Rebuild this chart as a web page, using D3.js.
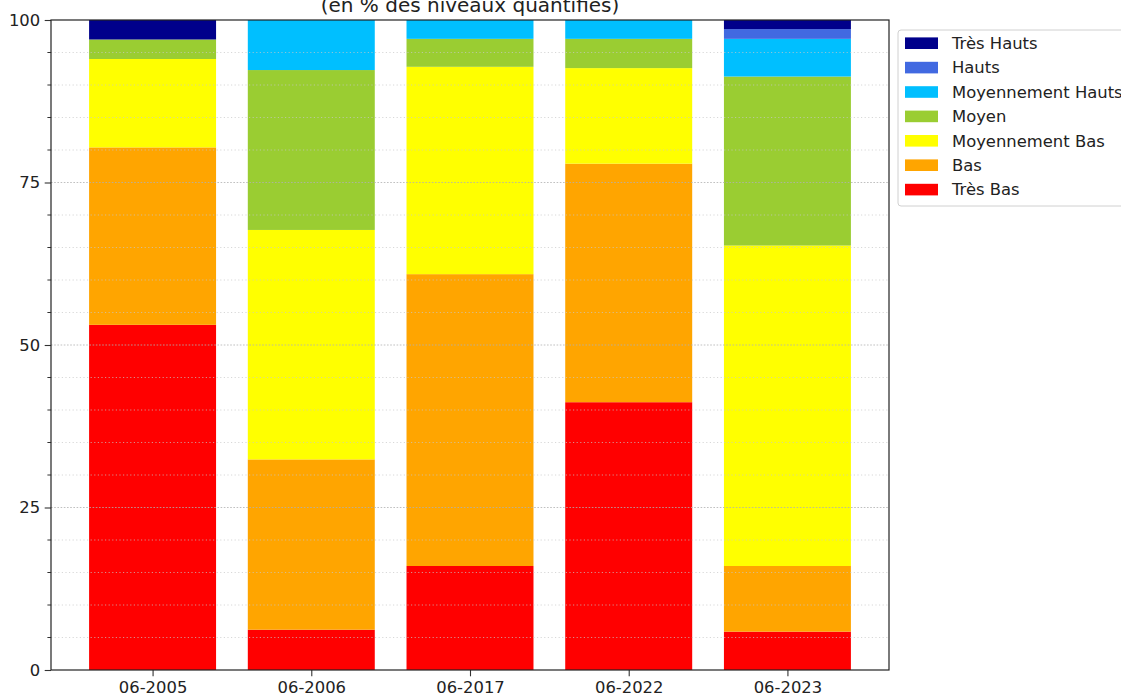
<!DOCTYPE html>
<html>
<head>
<meta charset="utf-8">
<script src="https://cdn.jsdelivr.net/npm/d3@7"></script>
<style>
  body { margin: 0; background: #fff; }
  svg { display: block; font-family: "DejaVu Sans", sans-serif; }
</style>
</head>
<body>
<svg id="chart" width="1121" height="697"></svg>
<script>
// Chart data (% of quantified levels)
var dates = ["06-2005", "06-2006", "06-2017", "06-2022", "06-2023"];
var tresBas   = [53.1,  6.2, 16.0, 41.2,  5.9];
var bas       = [27.3, 26.2, 44.9, 36.7, 10.1];
var moyBas    = [13.6, 35.3, 31.9, 14.7, 49.3];
var moyen     = [ 3.0, 24.6,  4.3,  4.5, 26.0];
var moyHauts  = [ 0.0,  7.7,  2.9,  2.9,  5.8];
var hauts     = [ 0.0,  0.0,  0.0,  0.0,  1.5];
var tresHauts = [ 3.0,  0.0,  0.0,  0.0,  1.4];

var seriesNames = ["Très Bas", "Bas", "Moyennement Bas", "Moyen", "Moyennement Hauts", "Hauts", "Très Hauts"];
var seriesValues = [tresBas, bas, moyBas, moyen, moyHauts, hauts, tresHauts];
var seriesColors = ["#ff0000", "#ffa500", "#ffff00", "#9acd32", "#00bfff", "#4169e1", "#00008b"];
var yTicks = [0, 25, 50, 75, 100];
var titleText = "(en % des niveaux quantifiés)";

var svg = d3.select("#chart");
var plotLeft = 51, plotRight = 889, plotTop = 20, plotBottom = 670;

// Build rows for the stack
var rows = dates.map(function(d, i) {
    var row = { date: d, idx: i };
    seriesNames.forEach(function(name, k) { row[name] = seriesValues[k][i]; });
    return row;
});
var stacked = d3.stack().keys(seriesNames)(rows);

// Same layout as a matplotlib bar chart: width 0.8, 5% margins
var x = d3.scaleLinear().domain([-0.64, dates.length - 1 + 0.64]).range([plotLeft, plotRight]);
var y = d3.scaleLinear().domain([0, 100]).range([plotBottom, plotTop]);
var barW = 0.8;

// Bars
stacked.forEach(function(layer, k) {
    svg.append("g")
        .attr("fill", seriesColors[k])
        .selectAll("rect")
        .data(layer.filter(function(d) { return d[1] - d[0] > 0; }))
        .enter()
        .append("rect")
        .attr("x", function(d) { return x(d.data.idx - barW / 2); })
        .attr("width", function(d) { return x(d.data.idx + barW / 2) - x(d.data.idx - barW / 2); })
        .attr("y", function(d) { return y(d[1]); })
        .attr("height", function(d) { return y(d[0]) - y(d[1]); });
});

// Grid lines (drawn over the bars)
var minorTicks = d3.range(5, 100, 5).filter(function(v) { return v % 25 !== 0; });
svg.append("g")
    .selectAll("line")
    .data(minorTicks)
    .enter()
    .append("line")
    .attr("x1", plotLeft).attr("x2", plotRight)
    .attr("y1", function(d) { return y(d); })
    .attr("y2", function(d) { return y(d); })
    .attr("stroke", "#c8c8c8")
    .attr("stroke-opacity", 0.7)
    .attr("stroke-width", 1)
    .attr("stroke-dasharray", "1.2,2.4");

svg.append("g")
    .selectAll("line")
    .data(yTicks.filter(function(v) { return v > 0 && v < 100; }))
    .enter()
    .append("line")
    .attr("x1", plotLeft).attr("x2", plotRight)
    .attr("y1", function(d) { return y(d); })
    .attr("y2", function(d) { return y(d); })
    .attr("stroke", "#b0b0b0")
    .attr("stroke-opacity", 0.8)
    .attr("stroke-width", 1.1)
    .attr("stroke-dasharray", "1.6,1.6");

// Y axis
var yAxis = d3.axisLeft(y).tickValues(yTicks).tickSize(6.3).tickPadding(4.5).tickFormat(d3.format("d"));
var yg = svg.append("g").attr("transform", "translate(" + plotLeft + ",0)").call(yAxis);
yg.select(".domain").remove();

// minor y ticks
svg.append("g")
    .selectAll("line")
    .data(minorTicks)
    .enter()
    .append("line")
    .attr("x1", plotLeft - 3.6).attr("x2", plotLeft)
    .attr("y1", function(d) { return y(d); })
    .attr("y2", function(d) { return y(d); })
    .attr("stroke", "#333")
    .attr("stroke-width", 1);

// X axis
var xAxis = d3.axisBottom(x).tickValues(d3.range(dates.length)).tickSize(6.3).tickPadding(5.5)
    .tickFormat(function(i) { return dates[i]; });
var xg = svg.append("g").attr("transform", "translate(0," + plotBottom + ")").call(xAxis);
xg.select(".domain").remove();

svg.selectAll(".tick line").attr("stroke", "#333").attr("stroke-width", 1.1);
svg.selectAll(".tick text")
    .attr("fill", "#222")
    .style("font-size", "16.4px")
    .style("font-family", "'DejaVu Sans', sans-serif");

// Frame
svg.append("rect")
    .attr("x", plotLeft).attr("y", plotTop)
    .attr("width", plotRight - plotLeft).attr("height", plotBottom - plotTop)
    .attr("fill", "none")
    .attr("stroke", "#222")
    .attr("stroke-width", 1.2);

// Title (top line falls outside the figure)
svg.append("text")
    .attr("x", (plotLeft + plotRight) / 2)
    .attr("y", 11.5)
    .attr("text-anchor", "middle")
    .attr("fill", "#222")
    .style("font-size", "20px")
    .text(titleText);

// Legend
var legend = svg.append("g").attr("transform", "translate(898,30)");
legend.append("rect")
    .attr("width", 240).attr("height", 176)
    .attr("rx", 3)
    .attr("fill", "#fff").attr("fill-opacity", 0.8)
    .attr("stroke", "#d0d0d0").attr("stroke-width", 1);

var legendItems = seriesNames.map(function(n, k) { return { name: n, color: seriesColors[k] }; }).reverse();
var item = legend.selectAll("g.item")
    .data(legendItems)
    .enter()
    .append("g")
    .attr("class", "item")
    .attr("transform", function(d, i) { return "translate(0," + (13.2 + i * 24.4) + ")"; });

item.append("rect")
    .attr("x", 7).attr("y", -5.8)
    .attr("width", 33).attr("height", 11.6)
    .attr("fill", function(d) { return d.color; });

item.append("text")
    .attr("x", 54).attr("y", 5.8)
    .attr("fill", "#222")
    .style("font-size", "16.4px")
    .text(function(d) { return d.name; });
</script>
</body>
</html>
